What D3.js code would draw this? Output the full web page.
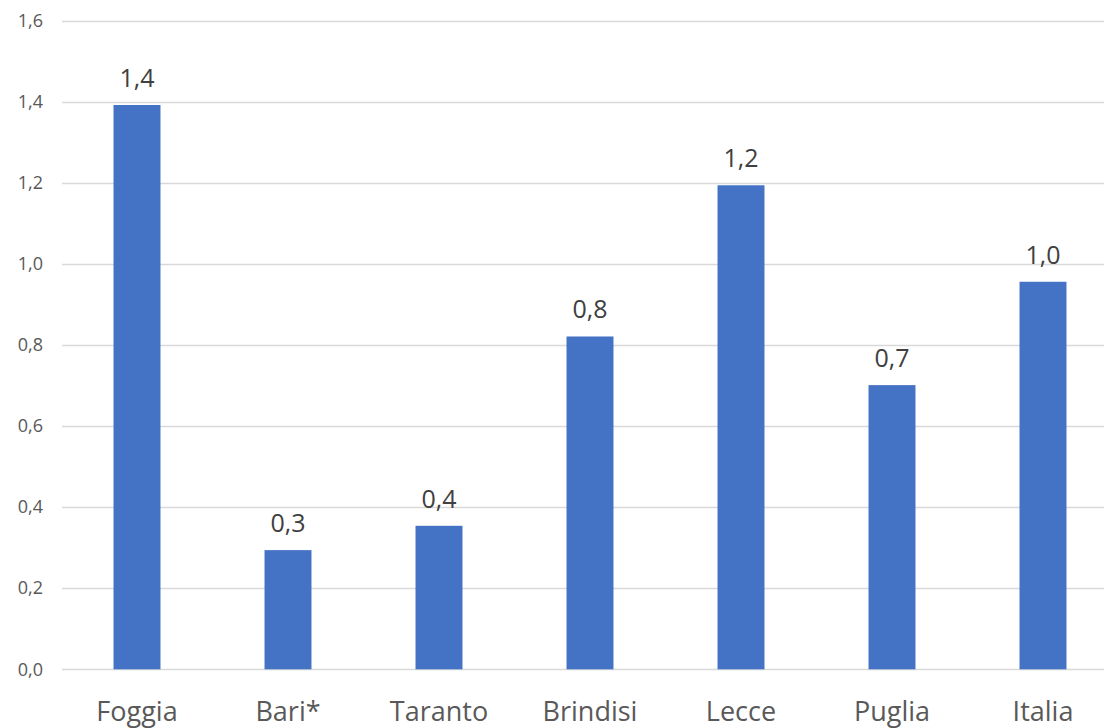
<!DOCTYPE html>
<html>
<head>
<meta charset="utf-8">
<script src="https://cdn.jsdelivr.net/npm/d3@7"></script>
<style>
  html, body { margin: 0; padding: 0; background: #fff; }
  svg { display: block; font-family: "Open Sans", "Liberation Sans", sans-serif; }
</style>
</head>
<body>
<svg id="chart" width="1104" height="728"></svg>
<script>
// Province and reference areas
const categories = ["Foggia", "Bari*", "Taranto", "Brindisi", "Lecce", "Puglia", "Italia"];
// Rate per category
const values = [1.392, 0.294, 0.354, 0.821, 1.194, 0.701, 0.956];
// Y-axis ticks
const yTicks = [0, 0.2, 0.4, 0.6, 0.8, 1.0, 1.2, 1.4, 1.6];

const itLocale = d3.formatLocale({ decimal: ",", thousands: ".", grouping: [3], currency: ["€", ""] });
const fmt = itLocale.format(".1f");

const svg = d3.select("#chart");

const x = d3.scaleBand()
  .domain(categories)
  .range([61.5, 1118.5])
  .paddingInner(0.689)
  .paddingOuter(0.3445);

const y = d3.scaleLinear()
  .domain([0, 1.6])
  .range([669.3, 20.7]);

// Horizontal gridlines
svg.append("g")
  .selectAll("line")
  .data(yTicks)
  .join("line")
  .attr("x1", 62)
  .attr("x2", 1104)
  .attr("y1", d => Math.round(y(d)) + 0.5)
  .attr("y2", d => Math.round(y(d)) + 0.5)
  .attr("stroke", "#d9d9d9")
  .attr("stroke-width", 1.3);

// Y-axis labels
const yAxis = d3.axisLeft(y).tickValues(yTicks).tickFormat(fmt).tickSize(0).tickPadding(0);
const gy = svg.append("g").attr("transform", "translate(43,0)").call(yAxis);
gy.select(".domain").remove();
gy.selectAll("text")
  .attr("font-size", 18)
  .attr("fill", "#595959")
  .attr("font-family", "'Open Sans', sans-serif");

// Bars
svg.append("g")
  .selectAll("rect")
  .data(values)
  .join("rect")
  .attr("x", (d, i) => x(categories[i]))
  .attr("width", x.bandwidth())
  .attr("y", d => y(d))
  .attr("height", d => y(0) - y(d))
  .attr("fill", "#4472c4");

// Value labels
svg.append("g")
  .selectAll("text")
  .data(values)
  .join("text")
  .attr("x", (d, i) => x(categories[i]) + x.bandwidth() / 2)
  .attr("y", d => y(d) - 18)
  .attr("text-anchor", "middle")
  .attr("font-size", 25)
  .attr("fill", "#404040")
  .text(d => fmt(d));

// Category labels
const xAxis = d3.axisBottom(x).tickSize(0).tickPadding(0);
const gx = svg.append("g").attr("transform", "translate(0,669)").call(xAxis);
gx.select(".domain").remove();
gx.selectAll("text")
  .attr("dy", null)
  .attr("y", 52)
  .attr("font-size", 27)
  .attr("fill", "#595959")
  .attr("font-family", "'Open Sans', sans-serif");
</script>
</body>
</html>
